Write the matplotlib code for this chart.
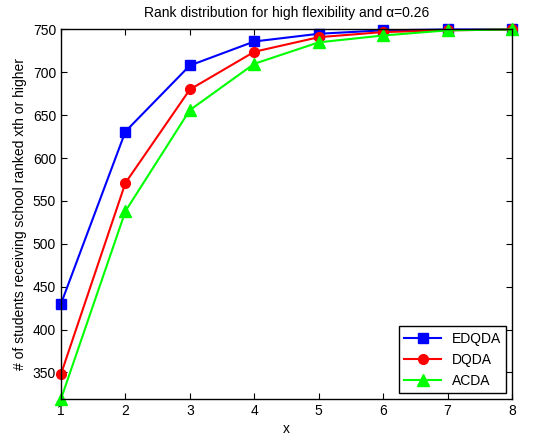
import matplotlib
matplotlib.use("Agg")
import matplotlib.pyplot as plt

plt.rcParams['font.family'] = ['Liberation Sans', 'DejaVu Sans']

# rank positions
x = [1, 2, 3, 4, 5, 6, 7, 8]

# number of students receiving school ranked xth or higher
edqda = [430, 631, 708, 736, 745, 749, 750, 750]
dqda = [348, 571, 680, 724, 741, 747, 749, 750]
acda = [319, 538, 656, 710, 735, 743, 749, 750]

fig = plt.figure(figsize=(5.43, 4.40), dpi=100)
ax = fig.add_axes([0.1123, 0.0932, 0.8307, 0.8398])

ax.plot(x, edqda, color='#0000ff', marker='s', markersize=7, linewidth=1.5, label='EDQDA', clip_on=False)
ax.plot(x, dqda, color='#ff0000', marker='o', markersize=7, linewidth=1.5, label='DQDA', clip_on=False)
ax.plot(x, acda, color='#00ff00', marker='^', markersize=8, linewidth=1.5, label='ACDA', clip_on=False)

ax.set_xlim(1, 8)
ax.set_ylim(319, 750)
ax.set_xticks(x)
ax.set_yticks([350, 400, 450, 500, 550, 600, 650, 700, 750])
ax.tick_params(direction='in', top=True, right=True, labelsize=10, length=4)
for s in ax.spines.values():
    s.set_linewidth(1.0)

ax.set_xlabel('x', fontsize=10, labelpad=3)
ax.set_ylabel('# of students receiving school ranked xth or higher', fontsize=10)
ax.set_title('Rank distribution for high flexibility and α=0.26', fontsize=10, pad=9)

leg = ax.legend(loc='lower right', fontsize=10, fancybox=False, edgecolor='black',
                framealpha=1, borderaxespad=0.4, handlelength=2.6)
leg.get_frame().set_linewidth(1.0)

fig.savefig('out.png', dpi=100)
